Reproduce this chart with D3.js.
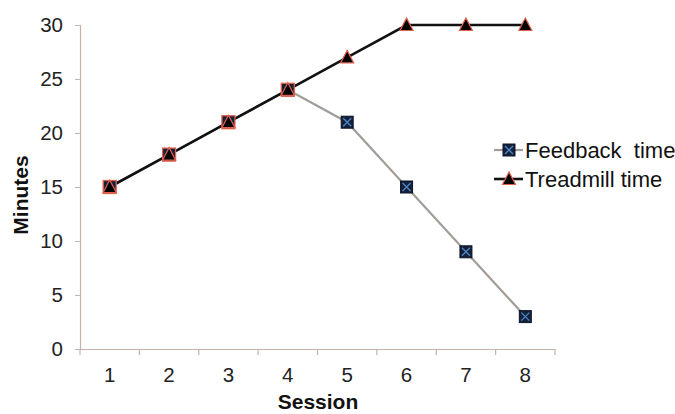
<!DOCTYPE html>
<html><head><meta charset="utf-8">
<script src="https://cdn.jsdelivr.net/npm/d3@7"></script>
<style>body{margin:0;background:#fff}svg{display:block;font-family:Arial,"Liberation Sans",sans-serif}</style>
</head><body><svg id="c" width="675" height="414"></svg>
<script>
const sessions = ["1","2","3","4","5","6","7","8"];
const feedbackTime = [15,18,21,24,21,15,9,3];
const treadmillTime = [15,18,21,24,27,30,30,30];
const yTicks = [0,5,10,15,20,25,30];
const seriesNames = ["Feedback  time","Treadmill time"];

const svg = d3.select("#c");
const x = d3.scaleBand().domain(sessions).range([80,555]);
const y = d3.scaleLinear().domain([0,30]).range([349,25]);
const axisColor = "#c2b3ab";

// y axis
const ya = svg.append("g").attr("transform","translate(80,0)")
  .call(d3.axisLeft(y).tickValues(yTicks).tickSize(5).tickPadding(12));
ya.select(".domain").attr("stroke",axisColor).attr("stroke-width",1.2);
ya.selectAll(".tick line").attr("stroke",axisColor);
ya.selectAll("text").attr("font-size",20.5).attr("fill","#222").attr("font-family","Arial,'Liberation Sans',sans-serif");

// x axis
const xa = svg.append("g").attr("transform","translate(0,349)")
  .call(d3.axisBottom(x).tickSize(0).tickPadding(18));
xa.select(".domain").attr("stroke",axisColor).attr("stroke-width",1.2);
xa.selectAll("text").attr("font-size",20.5).attr("fill","#222").attr("font-family","Arial,'Liberation Sans',sans-serif");
// tick marks between categories
const bounds = sessions.map(s=>x(s)).concat([x.range()[1]]);
svg.append("g").selectAll("line").data(bounds).join("line")
  .attr("x1",d=>d).attr("x2",d=>d).attr("y1",349).attr("y2",355)
  .attr("stroke",axisColor).attr("stroke-width",1.2);

// axis titles
svg.append("text").attr("x",318).attr("y",409).attr("text-anchor","middle")
  .attr("font-size",21).attr("font-weight","bold").attr("fill","#111").text("Session");
svg.append("text").attr("transform","translate(28,195) rotate(-90)").attr("text-anchor","middle")
  .attr("font-size",21).attr("font-weight","bold").attr("fill","#111").text("Minutes");

const cx = (d,i)=>x(sessions[i])+x.bandwidth()/2;
const line = d3.line().x(cx).y(d=>y(d));

// feedback line
svg.append("path").datum(feedbackTime).attr("d",line).attr("fill","none")
  .attr("stroke","#a39d98").attr("stroke-width",2.2);
// treadmill line
svg.append("path").datum(treadmillTime).attr("d",line).attr("fill","none")
  .attr("stroke","#111").attr("stroke-width",2.6);

function square(g, px, py){
  const s=6;
  g.append("rect").attr("x",px-s).attr("y",py-s).attr("width",2*s).attr("height",2*s)
    .attr("fill","#14213a").attr("stroke","#0c1426").attr("stroke-width",1);
  g.append("path").attr("d",`M${px-s+2},${py-s+2}L${px+s-2},${py+s-2}M${px+s-2},${py-s+2}L${px-s+2},${py+s-2}`)
    .attr("stroke","#4f86c6").attr("stroke-width",1.3);
}
function tri(g, px, py){
  g.append("path").attr("d",`M${px},${py-7}L${px+6.5},${py+5.5}L${px-6.5},${py+5.5}Z`)
    .attr("fill","#000").attr("stroke","#e0604e").attr("stroke-width",1.2);
}
function overlapSquare(g, px, py){
  const s=6.5;
  g.append("rect").attr("x",px-s).attr("y",py-s).attr("width",2*s).attr("height",2*s)
    .attr("fill","#14213a").attr("stroke","#e0604e").attr("stroke-width",1.3);
}

const mk = svg.append("g");
feedbackTime.forEach((v,i)=>{
  if (v===treadmillTime[i]) overlapSquare(mk, cx(v,i), y(v));
  else square(mk, cx(v,i), y(v));
});
treadmillTime.forEach((v,i)=>tri(mk, cx(v,i), y(v)));

// legend
const lg = svg.append("g");
const ly = [150,179];
lg.append("line").attr("x1",494).attr("x2",523).attr("y1",ly[0]).attr("y2",ly[0]).attr("stroke","#a39d98").attr("stroke-width",2.2);
square(lg,509,ly[0]);
lg.append("line").attr("x1",494).attr("x2",523).attr("y1",ly[1]).attr("y2",ly[1]).attr("stroke","#111").attr("stroke-width",2.6);
tri(lg,509,ly[1]);
seriesNames.forEach((n,i)=>{
  lg.append("text").attr("x",525).attr("y",ly[i]+7.5).attr("font-size",22).attr("fill","#111")
    .style("white-space","pre").text(n);
});
</script></body></html>
